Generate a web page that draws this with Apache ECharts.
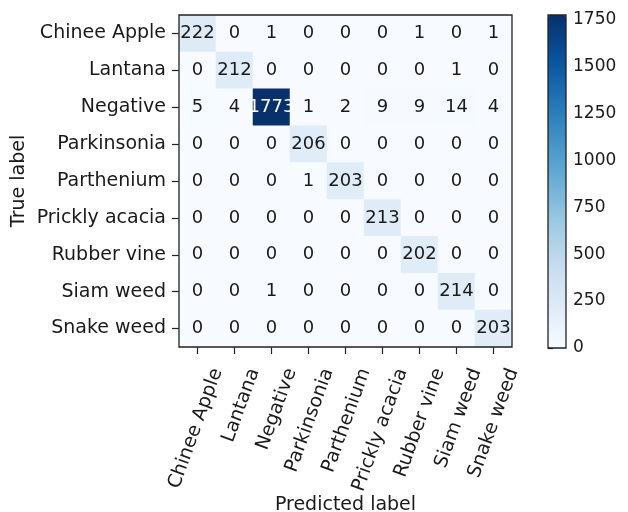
<!DOCTYPE html>
<html>
<head>
<meta charset="utf-8">
<script src="https://cdn.jsdelivr.net/npm/echarts@6/dist/echarts.min.js"></script>
<style>
  html, body { margin: 0; padding: 0; background: #fff; }
  #chart { width: 628px; height: 512px; }
</style>
</head>
<body>
<div id="chart"></div>
<script>
const classes = ['Chinee Apple', 'Lantana', 'Negative', 'Parkinsonia', 'Parthenium', 'Prickly acacia', 'Rubber vine', 'Siam weed', 'Snake weed']

// rows = true label, columns = predicted label
const rowChineeApple = [222, 0, 1, 0, 0, 0, 1, 0, 1]
const rowLantana = [0, 212, 0, 0, 0, 0, 0, 1, 0]
const rowNegative = [5, 4, 1773, 1, 2, 9, 9, 14, 4]
const rowParkinsonia = [0, 0, 0, 206, 0, 0, 0, 0, 0]
const rowParthenium = [0, 0, 0, 1, 203, 0, 0, 0, 0]
const rowPricklyAcacia = [0, 0, 0, 0, 0, 213, 0, 0, 0]
const rowRubberVine = [0, 0, 0, 0, 0, 0, 202, 0, 0]
const rowSiamWeed = [0, 0, 1, 0, 0, 0, 0, 214, 0]
const rowSnakeWeed = [0, 0, 0, 0, 0, 0, 0, 0, 203]

const colorbarTicks = [0, 250, 500, 750, 1000, 1250, 1500, 1750]

const matrix = [rowChineeApple, rowLantana, rowNegative, rowParkinsonia, rowParthenium,
  rowPricklyAcacia, rowRubberVine, rowSiamWeed, rowSnakeWeed]

const maxVal = Math.max(...matrix.map(r => Math.max(...r)))

let cells = []
matrix.forEach((row, i) => {
  row.forEach((v, j) => {
    cells.push({
      value: [j, i, v],
      label: { color: v > maxVal / 2 ? '#fff' : '#1a1a1a' }
    })
  })
})

const font = 'DejaVu Sans'
const txt = '#1a1a1a'
const blues = ['#f7fbff', '#deebf7', '#c6dbef', '#9ecae1', '#6baed6', '#4292c6', '#2171b5', '#08519c', '#08306b']

var myChart = echarts.init(document.getElementById('chart'))
myChart.setOption({
  animation: false,
  textStyle: { fontFamily: font },
  grid: [
    {
      left: 179, top: 15, width: 333, height: 332,
      outerBoundsMode: 'none', containLabel: false,
      show: true, borderColor: '#222', borderWidth: 1.3,
      backgroundColor: 'transparent', z: 10
    },
    {
      left: 548, top: 15, width: 18, height: 333,
      outerBoundsMode: 'none', containLabel: false,
      show: true, borderColor: '#222', borderWidth: 1.3,
      backgroundColor: 'transparent', z: 10
    }
  ],
  xAxis: [
    {
      type: 'category',
      data: classes,
      gridIndex: 0,
      name: 'Predicted label',
      nameLocation: 'middle',
      nameGap: 149,
      nameMoveOverlap: false,
      nameTextStyle: { fontSize: 19, color: txt, fontFamily: font },
      axisLine: { show: false },
      axisTick: { show: true, alignWithLabel: true, length: 7, lineStyle: { color: '#222', width: 1.2 } },
      axisLabel: {
        rotate: 70, fontSize: 19, color: txt, margin: 15, interval: 0, fontFamily: font,
        align: 'right', verticalAlign: 'top', lineHeight: 42
      },
      splitLine: { show: false }
    },
    {
      type: 'value',
      gridIndex: 1,
      show: false
    }
  ],
  yAxis: [
    {
      type: 'category',
      data: classes,
      inverse: true,
      gridIndex: 0,
      name: 'True label',
      nameLocation: 'middle',
      nameRotate: 90,
      nameGap: 150,
      nameMoveOverlap: false,
      nameTextStyle: { fontSize: 19, color: txt, fontFamily: font },
      axisLine: { show: false },
      axisTick: { show: true, alignWithLabel: true, length: 7, lineStyle: { color: '#222', width: 1.2 } },
      axisLabel: { fontSize: 19, color: txt, margin: 13, interval: 0, fontFamily: font },
      splitLine: { show: false }
    },
    {
      type: 'value',
      gridIndex: 1,
      min: 0,
      max: maxVal,
      position: 'right',
      axisLine: { show: false },
      axisTick: { show: true, length: 5, customValues: colorbarTicks, lineStyle: { color: '#222', width: 1.2 } },
      axisLabel: {
        fontSize: 17, color: txt, margin: 7, customValues: colorbarTicks, fontFamily: font,
        formatter: v => String(v)
      },
      splitLine: { show: false }
    }
  ],
  visualMap: {
    type: 'continuous',
    min: 0,
    max: maxVal,
    seriesIndex: 0,
    calculable: false,
    orient: 'vertical',
    left: 548,
    top: 15,
    padding: 0,
    itemWidth: 18,
    itemHeight: 333,
    text: null,
    inRange: { color: blues }
  },
  series: [
    {
      type: 'heatmap',
      xAxisIndex: 0,
      yAxisIndex: 0,
      data: cells,
      label: { show: true, fontSize: 18, fontFamily: font },
      itemStyle: { borderWidth: 0 }
    }
  ]
})
</script>
</body>
</html>
